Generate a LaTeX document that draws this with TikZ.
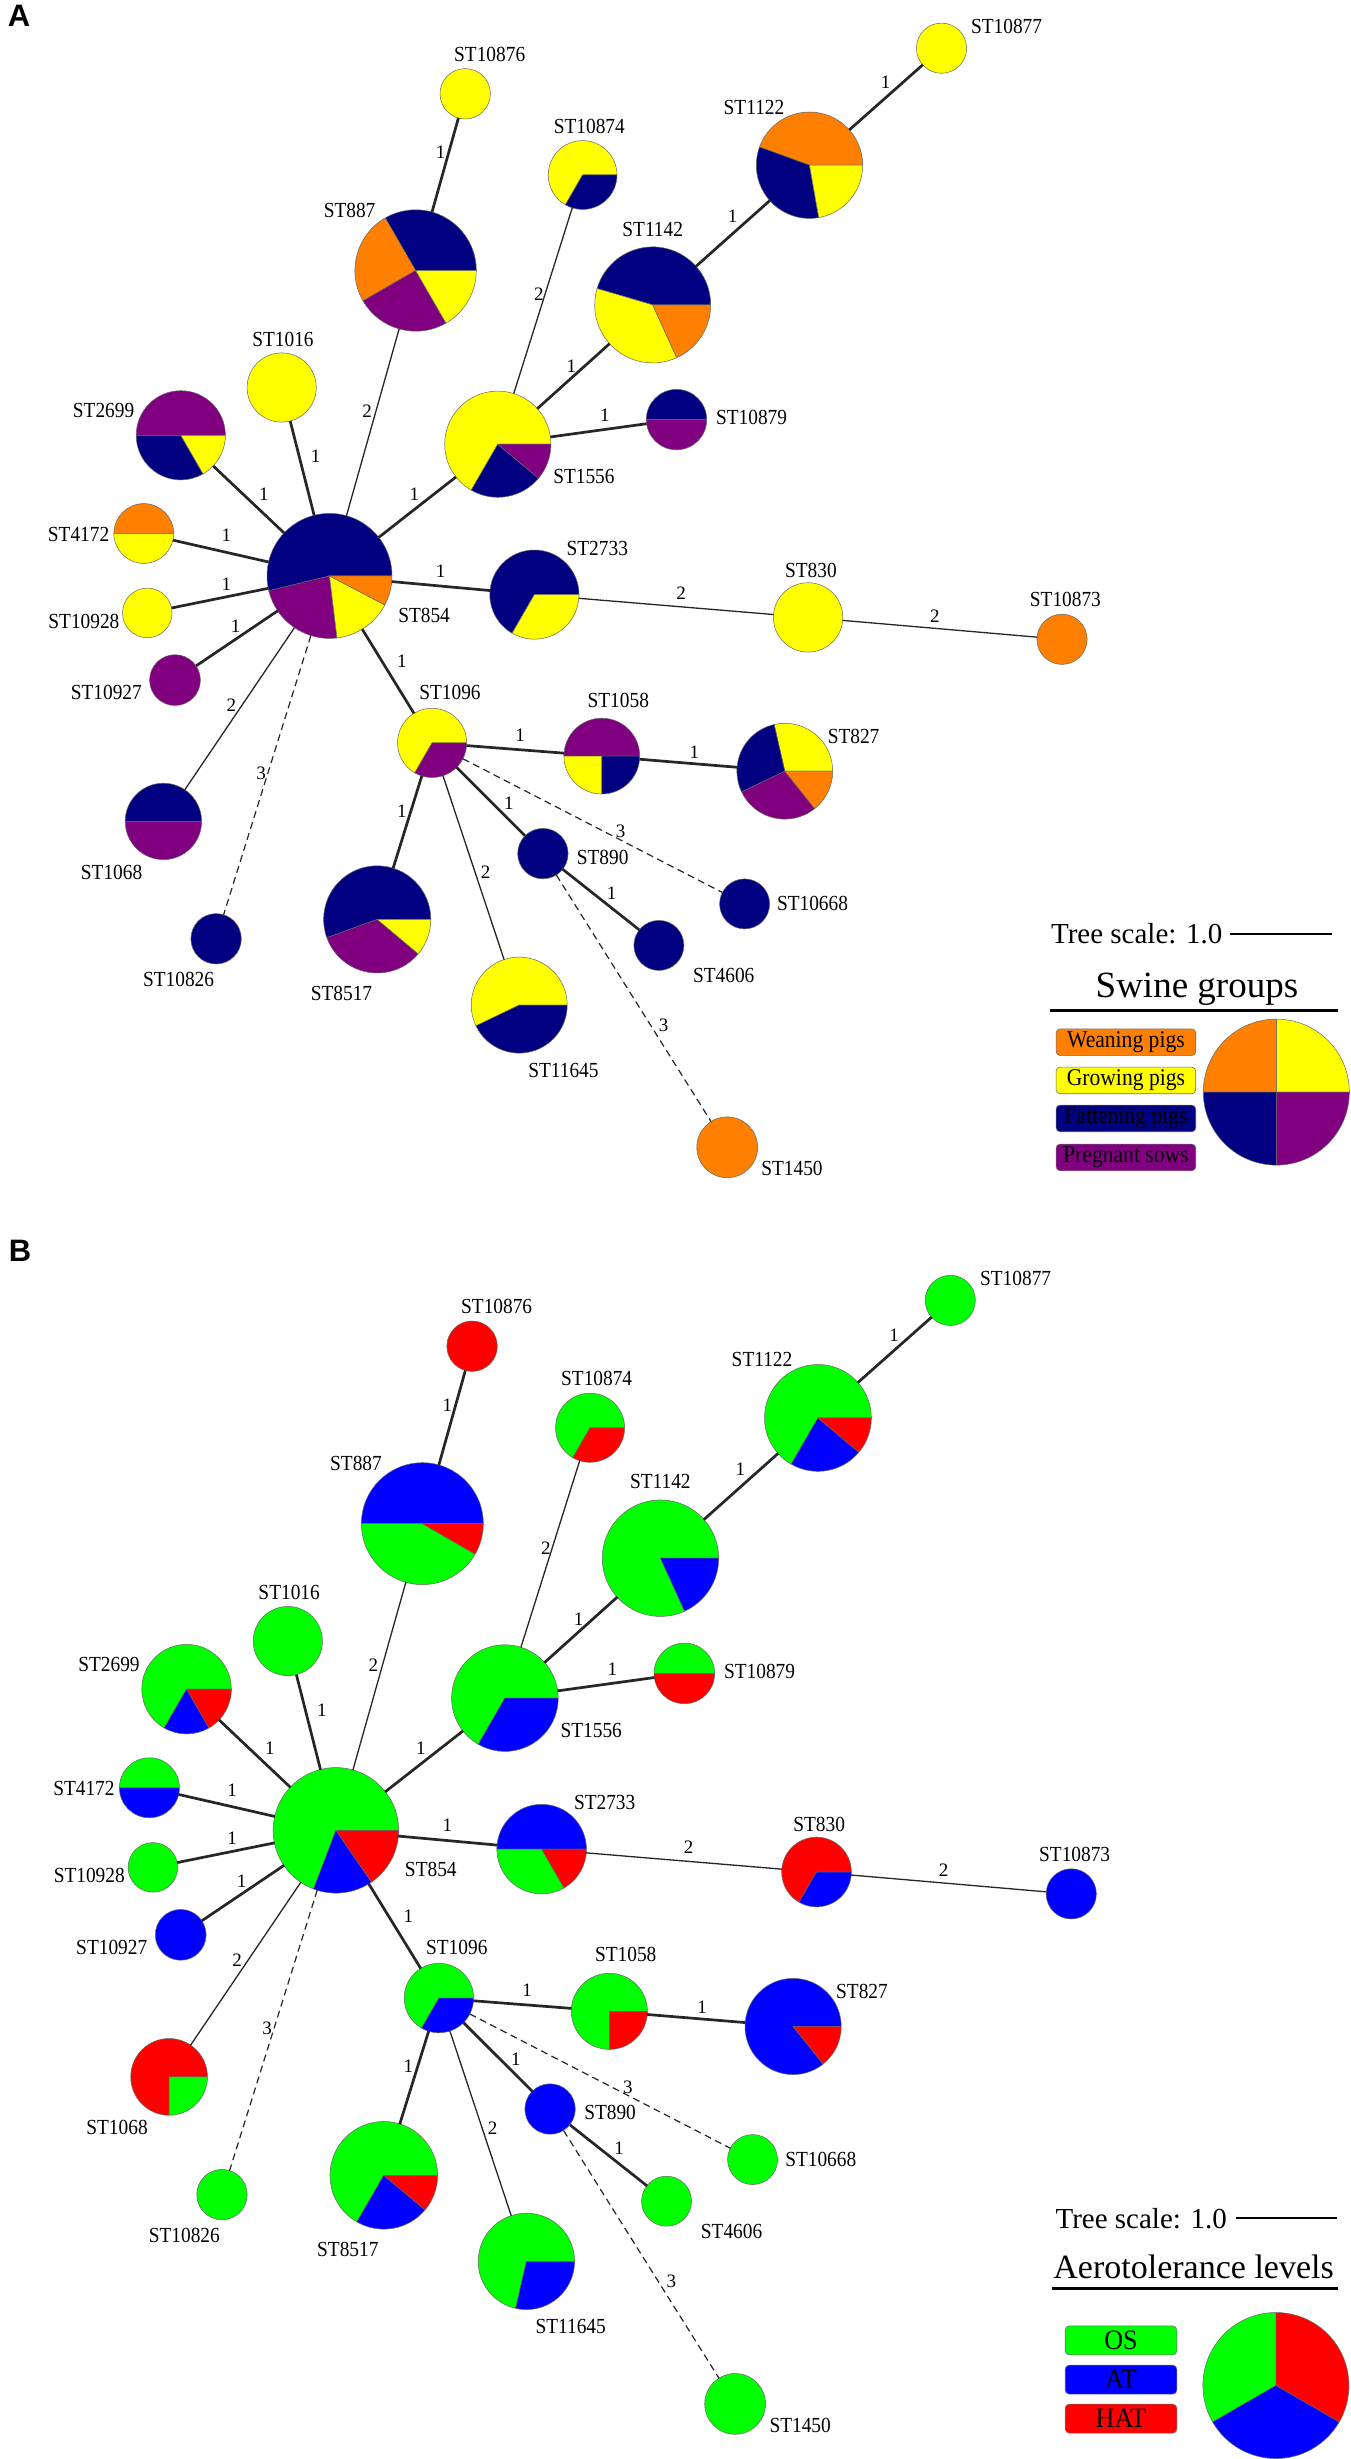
\documentclass[tikz,border=0pt]{standalone}
\usepackage{graphicx}
\usepackage{fontspec}
\setmainfont{Liberation Serif}
\newfontfamily\panelfont{Liberation Sans}
\definecolor{cor}{HTML}{FF8000}
\definecolor{cye}{HTML}{FFFF00}
\definecolor{cnv}{HTML}{000080}
\definecolor{cpu}{HTML}{800080}
\definecolor{cgr}{HTML}{00FF00}
\definecolor{cbl}{HTML}{0000FF}
\definecolor{crd}{HTML}{FF0000}
\newcommand\condtext[2]{\scalebox{#1}[1]{#2}}
\tikzset{
 stcirc/.style={circle, inner sep=0pt, outer sep=0pt},
 pieedge/.style={draw=black!60, line width=0.5pt},
 stlab/.style={font=\fontsize{21.5}{22}\selectfont, inner sep=0pt},
 elab/.style={font=\fontsize{19}{19}\selectfont, inner sep=0pt},
 e1/.style={line width=2.7pt, draw=black!85},
 e2/.style={line width=1.3pt, draw=black!85},
 e3/.style={line width=1.2pt, draw=black!85, dash pattern=on 7pt off 4.5pt},
 legbox/.style={rounded corners=4pt, draw=black!55, line width=0.6pt, inner sep=0pt},
}
\newcommand\pieslices[3]{%
  \foreach \pc/\ps/\pe in {#3}{%
    \filldraw[pieedge, fill=\pc] (#1.center) -- ++(-\ps:#2) arc[start angle=-\ps, end angle=-\pe, radius=#2] -- cycle;}}
\newcommand\pienode[8]{%
  \node[stcirc, minimum size={2*#5pt}] (#1#2) at (#3,#4) {};
  \pieslices{#1#2}{#5}{#8}
  \node[stlab] (#1#2l) at (#6,#7) {\condtext{0.9}{ST#2}};}
\newcommand\solidnode[8]{%
  \node[stcirc, pieedge, fill=#8, minimum size={2*#5pt}] (#1#2) at (#3,#4) {};
  \node[stlab] (#1#2l) at (#6,#7) {\condtext{0.9}{ST#2}};}
\newcommand\netedges[1]{%
 \draw[e1] (#1887) -- (#110876);  \node[elab] (#1e1) at (440.6,152.7) {1};
 \draw[e2] (#1854) -- (#1887);    \node[elab] (#1e2) at (367,411.6) {2};
 \draw[e1] (#1854) -- (#11016);   \node[elab] (#1e3) at (315.6,456.3) {1};
 \draw[e1] (#1854) -- (#12699);   \node[elab] (#1e4) at (263.8,494.6) {1};
 \draw[e1] (#1854) -- (#14172);   \node[elab] (#1e5) at (226.3,535.7) {1};
 \draw[e1] (#1854) -- (#110928);  \node[elab] (#1e6) at (226.3,583.9) {1};
 \draw[e1] (#1854) -- (#110927);  \node[elab] (#1e7) at (235.7,626.3) {1};
 \draw[e2] (#1854) -- (#11068);   \node[elab] (#1e8) at (231.3,705.1) {2};
 \draw[e3] (#1854) -- (#110826);  \node[elab] (#1e9) at (261.2,773) {3};
 \draw[e1] (#1854) -- (#11096);   \node[elab] (#1e10) at (401.8,661.7) {1};
 \draw[e1] (#1854) -- (#12733);   \node[elab] (#1e11) at (440.6,571.4) {1};
 \draw[e1] (#1854) -- (#11556);   \node[elab] (#1e12) at (414.3,494.6) {1};
 \draw[e2] (#11556) -- (#110874); \node[elab] (#1e13) at (538.8,294.6) {2};
 \draw[e1] (#11556) -- (#11142);  \node[elab] (#1e14) at (571.4,366) {1};
 \draw[e1] (#11556) -- (#110879); \node[elab] (#1e15) at (604.9,415.2) {1};
 \draw[e1] (#11142) -- (#11122);  \node[elab] (#1e16) at (732.5,216.5) {1};
 \draw[e1] (#11122) -- (#110877); \node[elab] (#1e17) at (885.5,82.6) {1};
 \draw[e2] (#12733) -- (#1830);   \node[elab] (#1e18) at (681,592.9) {2};
 \draw[e2] (#1830) -- (#110873);  \node[elab] (#1e19) at (934.8,616.1) {2};
 \draw[e1] (#11096) -- (#11058);  \node[elab] (#1e20) at (520.1,735.7) {1};
 \draw[e1] (#11058) -- (#1827);   \node[elab] (#1e21) at (694.4,752) {1};
 \draw[e1] (#11096) -- (#18517);  \node[elab] (#1e22) at (401.8,811.2) {1};
 \draw[e2] (#11096) -- (#111645); \node[elab] (#1e23) at (485.7,872.4) {2};
 \draw[e1] (#11096) -- (#1890);   \node[elab] (#1e24) at (508.9,803.6) {1};
 \draw[e3] (#11096) -- (#110668); \node[elab] (#1e25) at (620.5,831.6) {3};
 \draw[e1] (#1890) -- (#14606);   \node[elab] (#1e26) at (611.6,892.9) {1};
 \draw[e3] (#1890) -- (#11450);   \node[elab] (#1e27) at (663.6,1025.3) {3};
}
\begin{document}
\begin{tikzpicture}[x=1pt, y=-1pt]
\fill[white] (0,0) rectangle (1350,2459);
\useasboundingbox (0,0) rectangle (1350,2459);

% ================= Panel A =================
\node[font=\panelfont\bfseries\fontsize{31}{31}\selectfont, inner sep=0pt] (pA) at (19,16) {A};
\pienode{a}{854}{329.5}{575.9}{62.5}{424.1}{615.2}{cnv/0/193.8, cpu/193.8/276.9, cye/276.9/332.3, cor/332.3/360}
\pienode{a}{887}{415.6}{270.5}{60.7}{349.6}{210.7}{cnv/0/120, cor/120/210, cpu/210/300, cye/300/360}
\solidnode{a}{10876}{465.2}{93.8}{25.2}{489.7}{54.5}{cye}
\pienode{a}{10874}{582.6}{175}{34.4}{589.3}{126.3}{cye/0/240, cnv/240/360}
\pienode{a}{1142}{652.7}{304.9}{58}{652.7}{229}{cnv/0/163.6, cye/163.6/294.5, cor/294.5/360}
\pienode{a}{1122}{809.5}{165.2}{53.2}{754}{107.1}{cor/0/160, cnv/160/280, cye/280/360}
\solidnode{a}{10877}{941.5}{48.2}{25.1}{1006.6}{26.8}{cye}
\solidnode{a}{1016}{281.7}{387.5}{34.6}{283}{339.3}{cye}
\pienode{a}{2699}{180.8}{435.3}{44.6}{103.6}{410.7}{cpu/0/180, cnv/180/300, cye/300/360}
\pienode{a}{1556}{497.8}{444.2}{53.1}{583.9}{476.8}{cye/0/240, cnv/240/320, cpu/320/360}
\pienode{a}{10879}{676.5}{419.6}{30.2}{751.6}{417.4}{cnv/0/180, cpu/180/360}
\pienode{a}{4172}{143.8}{533.5}{29.9}{78.6}{534.4}{cor/0/180, cye/180/360}
\pienode{a}{2733}{534.4}{594.6}{44.6}{597.3}{548.2}{cnv/0/240, cye/240/360}
\solidnode{a}{830}{808.1}{617.4}{34.7}{810.9}{570.5}{cye}
\solidnode{a}{10873}{1062}{639.3}{25.1}{1065.4}{599.6}{cor}
\solidnode{a}{10928}{147.3}{612.9}{24.8}{83.9}{621.4}{cye}
\solidnode{a}{10927}{175}{680.1}{25.4}{106.3}{692.9}{cpu}
\pienode{a}{1096}{432.1}{742.9}{34.6}{450}{692.9}{cye/0/240, cpu/240/360}
\pienode{a}{1058}{601.8}{756.1}{37.9}{618.3}{700}{cpu/0/180, cye/180/270, cnv/270/360}
\pienode{a}{827}{784.8}{771.2}{47.9}{853.6}{736}{cye/0/102.9, cnv/102.9/205.7, cpu/205.7/308.6, cor/308.6/360}
\pienode{a}{1068}{163.4}{821.4}{38.2}{111.6}{872.4}{cnv/0/180, cpu/180/360}
\solidnode{a}{890}{542.9}{853.6}{25.2}{602.7}{857.1}{cnv}
\solidnode{a}{10668}{744.6}{903.9}{25}{812.5}{903.9}{cnv}
\solidnode{a}{4606}{658.9}{945.4}{25}{723.7}{975.6}{cnv}
\pienode{a}{8517}{377.2}{919.4}{53.6}{341.5}{993.9}{cnv/0/200, cpu/200/320, cye/320/360}
\solidnode{a}{10826}{216.1}{938.8}{25.2}{178.6}{979.6}{cnv}
\pienode{a}{11645}{519.2}{1005.1}{48}{563.4}{1070.4}{cye/0/205.7, cnv/205.7/360}
\solidnode{a}{1450}{727.2}{1147.3}{30.4}{792}{1168.8}{cor}
\netedges{a}

% legend A
\node[anchor=west, inner sep=0pt, font=\fontsize{29}{29}\selectfont] (aTS) at (1050.9,933.7) {Tree scale: 1.0};
\coordinate (aSL1) at (1230.4,933.7);
\coordinate (aSL2) at (1332.1,933.7);
\draw[line width=2pt] (aSL1) -- (aSL2);
\node[anchor=base, inner sep=0pt, font=\fontsize{37}{37}\selectfont] (aTitle) at (1196.9,997.2) {Swine groups};
\coordinate (aHL1) at (1050.4,1010.4);
\coordinate (aHL2) at (1338.4,1010.4);
\draw[line width=3pt] (aHL1) -- (aHL2);
\node[legbox, fill=cor, minimum width=139.7pt, minimum height=26.7pt, font=\fontsize{24}{24}\selectfont] (aK1) at (1125.9,1042.2) {\condtext{0.9}{Weaning pigs}};
\node[legbox, fill=cye, minimum width=139.7pt, minimum height=26.7pt, font=\fontsize{24}{24}\selectfont] (aK2) at (1125.9,1080.4) {\condtext{0.9}{Growing pigs}};
\node[legbox, fill=cnv, minimum width=139.7pt, minimum height=26.7pt, font=\fontsize{24}{24}\selectfont] (aK3) at (1125.9,1118.4) {\condtext{0.9}{Fattening pigs}};
\node[legbox, fill=cpu, minimum width=139.7pt, minimum height=26.7pt, font=\fontsize{24}{24}\selectfont] (aK4) at (1125.9,1157.4) {\condtext{0.9}{Pregnant sows}};
\node[stcirc, minimum size=146pt] (aLP) at (1276.3,1092.1) {};
\pieslices{aLP}{73}{cye/0/90, cor/90/180, cnv/180/270, cpu/270/360}

% ================= Panel B =================
\node[font=\panelfont\bfseries\fontsize{31}{31}\selectfont, inner sep=0pt] (pB) at (20,1251) {B};
\begin{scope}[shift={(5,1252)}, scale=1.004]
\pienode{b}{854}{329.5}{575.9}{62.5}{424.1}{615.2}{cgr/0/249.2, cbl/249.2/304.6, crd/304.6/360}
\pienode{b}{887}{415.6}{270.5}{60.7}{349.6}{210.7}{cbl/0/180, cgr/180/330, crd/330/360}
\solidnode{b}{10876}{465.2}{93.8}{25.2}{489.7}{54.5}{crd}
\pienode{b}{10874}{582.6}{175}{34.4}{589.3}{126.3}{cgr/0/240, crd/240/360}
\pienode{b}{1142}{652.7}{304.9}{58}{652.7}{229}{cgr/0/294.5, cbl/294.5/360}
\pienode{b}{1122}{809.5}{165.2}{53.2}{754}{107.1}{cgr/0/240, cbl/240/320, crd/320/360}
\solidnode{b}{10877}{941.5}{48.2}{25.1}{1006.6}{26.8}{cgr}
\solidnode{b}{1016}{281.7}{387.5}{34.6}{283}{339.3}{cgr}
\pienode{b}{2699}{180.8}{435.3}{44.6}{103.6}{410.7}{cgr/0/240, cbl/240/300, crd/300/360}
\pienode{b}{1556}{497.8}{444.2}{53.1}{583.9}{476.8}{cgr/0/240, cbl/240/360}
\pienode{b}{10879}{676.5}{419.6}{30.2}{751.6}{417.4}{cgr/0/180, crd/180/360}
\pienode{b}{4172}{143.8}{533.5}{29.9}{78.6}{534.4}{cgr/0/180, cbl/180/360}
\pienode{b}{2733}{534.4}{594.6}{44.6}{597.3}{548.2}{cbl/0/180, cgr/180/300, crd/300/360}
\pienode{b}{830}{808.1}{617.4}{34.7}{810.9}{570.5}{crd/0/240, cbl/240/360}
\solidnode{b}{10873}{1062}{639.3}{25.1}{1065.4}{599.6}{cbl}
\solidnode{b}{10928}{147.3}{612.9}{24.8}{83.9}{621.4}{cgr}
\solidnode{b}{10927}{175}{680.1}{25.4}{106.3}{692.9}{cbl}
\pienode{b}{1096}{432.1}{742.9}{34.6}{450}{692.9}{cgr/0/240, cbl/240/360}
\pienode{b}{1058}{601.8}{756.1}{37.9}{618.3}{700}{cgr/0/270, crd/270/360}
\pienode{b}{827}{784.8}{771.2}{47.9}{853.6}{736}{cbl/0/308.6, crd/308.6/360}
\pienode{b}{1068}{163.4}{821.4}{38.2}{111.6}{872.4}{crd/0/270, cgr/270/360}
\solidnode{b}{890}{542.9}{853.6}{25.2}{602.7}{857.1}{cbl}
\solidnode{b}{10668}{744.6}{903.9}{25}{812.5}{903.9}{cgr}
\solidnode{b}{4606}{658.9}{945.4}{25}{723.7}{975.6}{cgr}
\pienode{b}{8517}{377.2}{919.4}{53.6}{341.5}{993.9}{cgr/0/240, cbl/240/320, crd/320/360}
\solidnode{b}{10826}{216.1}{938.8}{25.2}{178.6}{979.6}{cgr}
\pienode{b}{11645}{519.2}{1005.1}{48}{563.4}{1070.4}{cgr/0/257.1, cbl/257.1/360}
\solidnode{b}{1450}{727.2}{1147.3}{30.4}{792}{1168.8}{cgr}
\netedges{b}
\end{scope}

% legend B
\node[anchor=west, inner sep=0pt, font=\fontsize{29}{29}\selectfont] (bTS) at (1055.4,2218.2) {Tree scale: 1.0};
\coordinate (bSL1) at (1235.7,2218.2);
\coordinate (bSL2) at (1336.6,2218.2);
\draw[line width=2pt] (bSL1) -- (bSL2);
\node[anchor=base, inner sep=0pt, font=\fontsize{34}{34}\selectfont] (bTitle) at (1193.6,2278.4) {Aerotolerance levels};
\coordinate (bHL1) at (1051.8,2288.1);
\coordinate (bHL2) at (1338.4,2288.1);
\draw[line width=3pt] (bHL1) -- (bHL2);
\node[legbox, fill=cgr, minimum width=111.6pt, minimum height=29pt, font=\fontsize{28}{28}\selectfont] (bK1) at (1121,2340.4) {\condtext{0.93}{OS}};
\node[legbox, fill=cbl, minimum width=111.6pt, minimum height=29pt, font=\fontsize{28}{28}\selectfont] (bK2) at (1121,2379.6) {\condtext{0.93}{AT}};
\node[legbox, fill=crd, minimum width=111.6pt, minimum height=29pt, font=\fontsize{28}{28}\selectfont] (bK3) at (1121,2418.6) {\condtext{0.93}{HAT}};
\node[stcirc, minimum size=146pt] (bLP) at (1275.9,2385.5) {};
\pieslices{bLP}{73}{crd/-30/90, cgr/90/210, cbl/210/330}
\end{tikzpicture}
\end{document}
